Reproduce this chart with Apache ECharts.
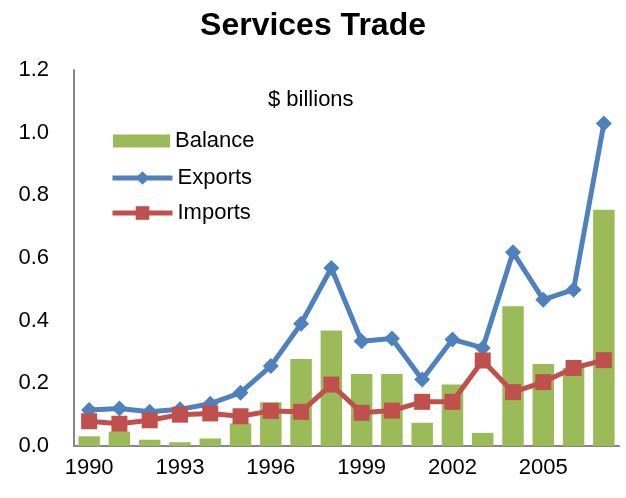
<!DOCTYPE html>
<html><head><meta charset="utf-8">
<script src="https://cdn.jsdelivr.net/npm/echarts@6/dist/echarts.min.js"></script>
<style>html,body{margin:0;padding:0;background:#fff}#c{width:626px;height:498px}</style>
</head><body><div id="c"></div>
<script>
var years = ['1990','1991','1992','1993','1994','1995','1996','1997','1998','1999','2000','2001','2002','2003','2004','2005','2006','2007'];
var balance = [0.031,0.046,0.020,0.012,0.024,0.072,0.140,0.278,0.369,0.230,0.230,0.074,0.196,0.042,0.446,0.262,0.250,0.754];
var exports = [0.115,0.120,0.109,0.117,0.135,0.170,0.255,0.390,0.568,0.334,0.343,0.212,0.340,0.313,0.618,0.467,0.499,1.029];
var imports = [0.079,0.071,0.082,0.100,0.104,0.095,0.112,0.109,0.196,0.106,0.113,0.141,0.141,0.273,0.172,0.204,0.249,0.274];
var yTicks = [0,0.2,0.4,0.6,0.8,1.0,1.2];

var F = 'Arial, "Liberation Sans", sans-serif';
var legText = {fontFamily:F,fontSize:22,color:'#000'};
var chart = echarts.init(document.getElementById('c'));
chart.setOption({
  animation:false,
  textStyle:{fontFamily:F},
  title:[
    {text:'Services Trade', left:'center', top:5, textStyle:{fontFamily:F,fontSize:32,fontWeight:'bold',color:'#000'}},
    {text:'$ billions', left:263, top:84, textStyle:{fontFamily:F,fontSize:22,fontWeight:'normal',color:'#000'}}
  ],
  legend:[
    {left:113, top:130, itemWidth:57, itemHeight:13, padding:0, textStyle:legText,
     data:[{name:'Balance',icon:'rect'}]},
    {left:110, top:167, itemWidth:60, itemHeight:17, padding:0, textStyle:legText,
     lineStyle:{width:5}, data:[{name:'Exports'}]},
    {left:110, top:202, itemWidth:60, itemHeight:17, padding:0, textStyle:legText,
     lineStyle:{width:5}, data:[{name:'Imports'}]}
  ],
  grid:{left:74,right:7,top:70,bottom:52,containLabel:false},
  xAxis:{
    type:'category', data:years, boundaryGap:true,
    axisLine:{lineStyle:{color:'#868686',width:2}},
    axisTick:{show:false},
    axisLabel:{interval:2, color:'#000', fontSize:22, fontFamily:F, margin:11}
  },
  yAxis:{
    type:'value', min:yTicks[0], max:yTicks[yTicks.length-1], interval:0.2,
    axisLine:{show:true,lineStyle:{color:'#868686',width:2}},
    axisTick:{show:false},
    splitLine:{show:false},
    axisLabel:{color:'#000', fontSize:22, fontFamily:F, margin:25, formatter:function(v){return v.toFixed(1);}}
  },
  series:[
    {name:'Balance', type:'bar', data:balance, barCategoryGap:'29%', itemStyle:{color:'#9BBB59'}},
    {name:'Exports', type:'line', data:exports, symbol:'diamond', symbolSize:16, lineStyle:{color:'#4F81BD',width:5}, itemStyle:{color:'#4F81BD'}},
    {name:'Imports', type:'line', data:imports, symbol:'rect', symbolSize:16, lineStyle:{color:'#C0504D',width:5}, itemStyle:{color:'#C0504D'}}
  ]
});
</script></body></html>
